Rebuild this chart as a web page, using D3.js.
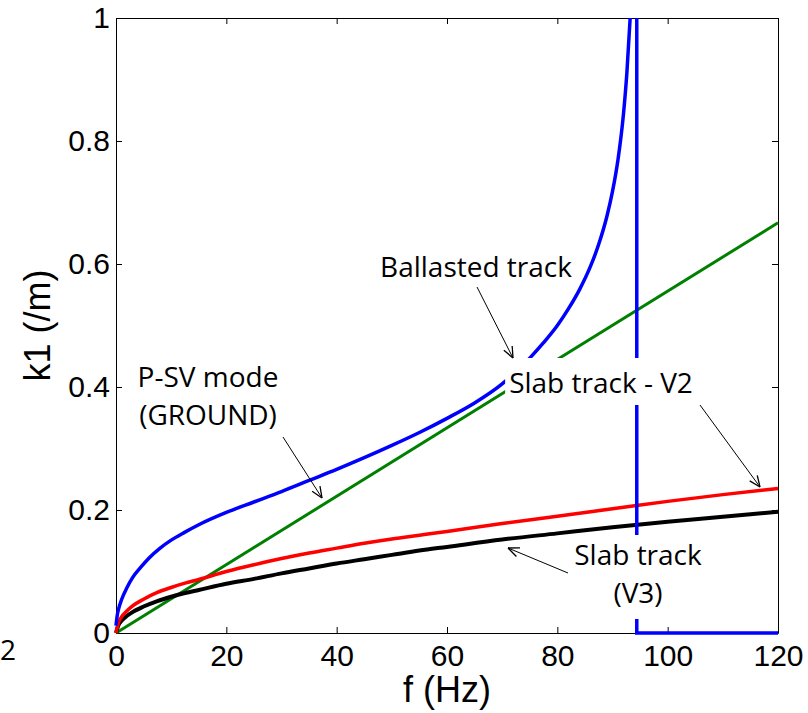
<!DOCTYPE html>
<html>
<head>
<meta charset="utf-8">
<script src="https://cdn.jsdelivr.net/npm/d3@7"></script>
<style>
  body { margin: 0; background: #fff; }
  .tick text { font-family: "Liberation Sans", Arial, sans-serif; font-size: 30px; fill: #000; }
  .note { font-family: "Open Sans", sans-serif; font-size: 28px; fill: #000; }
</style>
</head>
<body>
<div id="chart"></div>
<script>
// k1 dispersion curves
const xTicks = [0, 20, 40, 60, 80, 100, 120];
const yTicks = [0, 0.2, 0.4, 0.6, 0.8, 1];
const yTickLabels = ["0", "0.2", "0.4", "0.6", "0.8", "1"];

// ballasted track (blue) up to its resonance
const freqBallasted = [0, 0.25, 0.5, 1, 2, 3, 4.5, 6, 8, 10, 12.5, 15, 20, 25, 30, 35, 40, 45, 50, 55, 60, 65, 70, 72.5, 75, 77.5, 80, 82, 84, 86, 87.5, 89, 90, 91, 92, 92.6, 93.2];
const kBallasted = [0.012, 0.03, 0.04, 0.054, 0.074, 0.09, 0.107, 0.122, 0.138, 0.151, 0.164, 0.176, 0.196, 0.213, 0.230, 0.248, 0.266, 0.285, 0.305, 0.326, 0.349, 0.374, 0.405, 0.425, 0.447, 0.472, 0.500, 0.527, 0.558, 0.596, 0.632, 0.678, 0.718, 0.770, 0.845, 0.91, 1.0];
// ballasted track after cut-off
const freqCutoff = [94.4, 94.4, 120];
const kCutoff = [1, 0, 0];

// P-SV mode of the ground (green)
const freqGround = [0, 120];
const kGround = [0, 0.667];

// slab track V2 (red) and V3 (black)
const freqSlab = [0, 0.5, 1, 2, 3, 5, 7.5, 10, 12.5, 15, 20, 25, 30, 35, 40, 45, 50, 55, 60, 70, 80, 90, 100, 110, 120];
const kSlabV2 = [0, 0.018, 0.026, 0.036, 0.044, 0.055, 0.066, 0.074, 0.081, 0.087, 0.100, 0.111, 0.121, 0.130, 0.138, 0.146, 0.153, 0.159, 0.165, 0.178, 0.190, 0.202, 0.214, 0.225, 0.235];
const kSlabV3 = [0, 0.014, 0.020, 0.028, 0.034, 0.043, 0.052, 0.059, 0.065, 0.070, 0.080, 0.088, 0.097, 0.105, 0.113, 0.120, 0.127, 0.134, 0.140, 0.152, 0.162, 0.172, 0.181, 0.189, 0.197];

const W = 808, H = 713;
const margin = { top: 18, right: 30, bottom: 80, left: 116 };

const svg = d3.select("#chart").append("svg")
  .attr("width", W).attr("height", H);

const x = d3.scaleLinear().domain([0, 120]).range([margin.left, W - margin.right]);
const y = d3.scaleLinear().domain([0, 1]).range([H - margin.bottom, margin.top]);

// axes, ticks pointing inward on all four sides
svg.append("g")
  .attr("transform", `translate(0,${y(0)})`)
  .call(d3.axisBottom(x).tickValues(xTicks).tickSizeInner(-6).tickSizeOuter(0).tickPadding(12));
svg.append("g")
  .attr("transform", `translate(0,${y(1)})`)
  .call(d3.axisTop(x).tickValues(xTicks).tickSizeInner(-6).tickSizeOuter(0).tickFormat(""));
svg.append("g")
  .attr("transform", `translate(${x(0)},0)`)
  .call(d3.axisLeft(y).tickValues(yTicks).tickSizeInner(-6).tickSizeOuter(0).tickPadding(6)
    .tickFormat((d, i) => yTickLabels[i]));
svg.append("g")
  .attr("transform", `translate(${x(120)},0)`)
  .call(d3.axisRight(y).tickValues(yTicks).tickSizeInner(-6).tickSizeOuter(0).tickFormat(""));

svg.selectAll(".domain, .tick line").attr("stroke", "#000").attr("stroke-width", 1);

// axis titles
svg.append("text")
  .attr("x", (x(0) + x(120)) / 2).attr("y", 702)
  .attr("text-anchor", "middle")
  .style("font-family", "Liberation Sans, Arial, sans-serif").style("font-size", "36px")
  .text("f (Hz)");
svg.append("text")
  .attr("transform", `translate(50,${(y(0) + y(1)) / 2}) rotate(-90)`)
  .attr("text-anchor", "middle")
  .style("font-family", "Liberation Sans, Arial, sans-serif").style("font-size", "36px")
  .text("k1 (/m)");

// stray digit at left edge
svg.append("text").attr("class", "note")
  .attr("x", 0).attr("y", 660).attr("text-anchor", "start").text("2");

// curves
const line = (fs, ks, curve) => d3.line()
  .x((d, i) => x(fs[i]))
  .y((d, i) => y(ks[i]))
  .curve(curve)(fs);

const series = [
  { f: freqGround, k: kGround, color: "#008000", w: 3, curve: d3.curveLinear },
  { f: freqSlab, k: kSlabV3, color: "#000000", w: 4, curve: d3.curveMonotoneX },
  { f: freqSlab, k: kSlabV2, color: "#ff0000", w: 3.5, curve: d3.curveMonotoneX },
  { f: freqBallasted, k: kBallasted, color: "#0000ff", w: 3.5, curve: d3.curveMonotoneX },
  { f: freqCutoff, k: kCutoff, color: "#0000ff", w: 3.5, curve: d3.curveLinear },
];

series.forEach(s => {
  svg.append("path")
    .attr("d", line(s.f, s.k, s.curve))
    .attr("fill", "none")
    .attr("stroke", s.color)
    .attr("stroke-width", s.w);
});

// annotations, the slab ones sit on white boxes (pad = [top, bottom])
const notes = [
  { lines: ["Ballasted track"], x: 476, y: 277 },
  { lines: ["P-SV mode", "(GROUND)"], x: 208, y: 387 },
  { lines: ["Slab track - V2"], x: 601, y: 393, pad: [5, 4] },
  { lines: ["Slab track", "(V3)"], x: 638, y: 565, pad: [0, 8] },
];
const lineGap = 38;

notes.forEach(n => {
  const g = svg.append("g");
  const t = g.append("text").attr("class", "note").attr("text-anchor", "middle");
  n.lines.forEach((s, i) => {
    t.append("tspan").attr("x", n.x).attr("y", n.y + i * lineGap).text(s);
  });
  if (n.pad) {
    const b = t.node().getBBox();
    g.insert("rect", "text")
      .attr("x", b.x - 4).attr("y", b.y - n.pad[0])
      .attr("width", b.width + 8).attr("height", b.height + n.pad[0] + n.pad[1])
      .attr("fill", "#fff");
  }
});

// arrows
const arrows = [
  { from: [477, 287], to: [513, 358] },
  { from: [283, 437], to: [322, 498] },
  { from: [700, 405], to: [760, 487] },
  { from: [568, 573], to: [508, 548] },
];

arrows.forEach(a => {
  const [x1, y1] = a.from, [x2, y2] = a.to;
  const ang = Math.atan2(y2 - y1, x2 - x1);
  const len = 12, spread = 0.4;
  svg.append("line")
    .attr("x1", x1).attr("y1", y1).attr("x2", x2).attr("y2", y2)
    .attr("stroke", "#000").attr("stroke-width", 1);
  [-spread, spread].forEach(s => {
    svg.append("line")
      .attr("x1", x2).attr("y1", y2)
      .attr("x2", x2 - len * Math.cos(ang + s)).attr("y2", y2 - len * Math.sin(ang + s))
      .attr("stroke", "#000").attr("stroke-width", 1.3);
  });
});
</script>
</body>
</html>
